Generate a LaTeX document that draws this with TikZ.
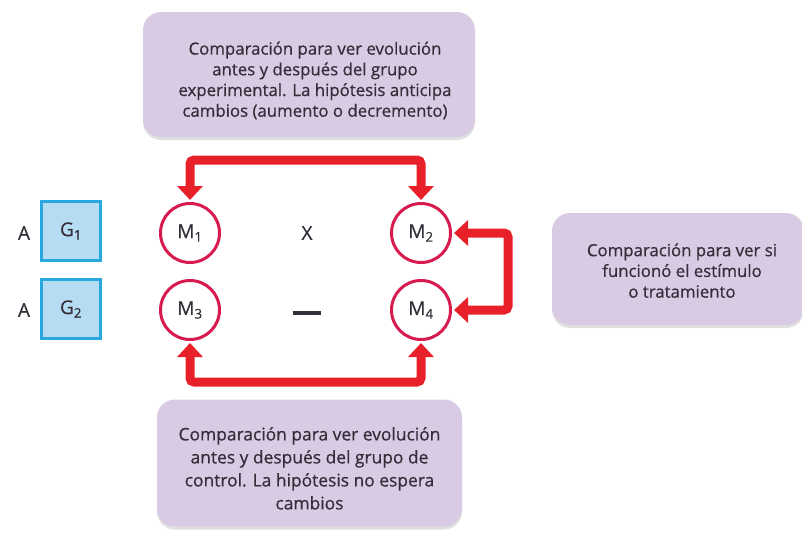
\documentclass[tikz,border=0pt]{standalone}
\usepackage{fontspec}
\setmainfont{Open Sans}
\newfontfamily\boxfont{Open Sans}[FakeBold=0.6]
\usetikzlibrary{arrows.meta,shadows}
\definecolor{boxfill}{HTML}{DACBE4}
\definecolor{txt}{HTML}{332E38}
\definecolor{arrowred}{HTML}{E8202A}
\definecolor{circ}{HTML}{D81B4F}
\definecolor{gfill}{HTML}{B5DCF2}
\definecolor{gdraw}{HTML}{2BA7DF}
\newcommand{\shiftln}{\hspace*{12pt}}
\tikzset{
  notebox/.style={rectangle, rounded corners=18pt, fill=boxfill, text=txt,
    align=center, font=\boxfont\fontsize{16.8}{20.7}\selectfont, inner sep=0pt,
    drop shadow={opacity=0.25, shadow xshift=0pt, shadow yshift=-3pt}},
  meas/.style={circle, draw=circ, line width=3pt, minimum size=59pt, inner sep=0pt,
    text=txt, font=\boxfont\fontsize{19}{20}\selectfont},
  grp/.style={rectangle, draw=gdraw, fill=gfill, line width=2.5pt, minimum size=59pt,
    inner sep=0pt, text=txt, font=\boxfont\fontsize{19}{20}\selectfont},
  lbl/.style={text=txt, font=\boxfont\fontsize{19}{20}\selectfont, inner sep=0pt},
  bigarrow/.style={draw=arrowred, line width=9pt, rounded corners=4pt,
    {Triangle[width=25pt,length=14pt]}-{Triangle[width=25pt,length=14pt]},
    shorten <=2pt, shorten >=2pt}
}
\begin{document}
\begin{tikzpicture}[x=1pt,y=-1pt]
\useasboundingbox (0,0) rectangle (802,533);
% comment boxes
\node[notebox, minimum width=332pt, minimum height=125pt] (top) at (309,74.5)
  {\rule{0pt}{25pt}\shiftln Comparación para ver evolución\\\shiftln antes y después del grupo\\\shiftln experimental. La hipótesis anticipa\\\shiftln cambios (aumento o decremento)};
\node[notebox, minimum width=305pt, minimum height=127pt,
  font=\boxfont\fontsize{17.4}{23}\selectfont] (bot) at (309.5,463)
  {\rule{0pt}{24pt}Comparación para ver evolución\\antes y después del grupo de\\control. La hipótesis no espera\\cambios};
\node[notebox, minimum width=252pt, minimum height=112pt] (right) at (678,269)
  {\rule{0pt}{16pt}\hspace*{8pt}Comparación para ver si\\\hspace*{8pt}funcionó el estímulo\\\hspace*{8pt}o tratamiento};
% groups
\node[lbl] (a1) at (24,233) {A};
\node[lbl] (a2) at (24,310) {A};
\node[grp] (g1) at (71,231) {G\textsubscript{1}};
\node[grp] (g2) at (71,309) {G\textsubscript{2}};
% measurements
\node[meas] (m1) at (190,233) {M\textsubscript{1}};
\node[meas] (m2) at (421,233) {M\textsubscript{2}};
\node[meas] (m3) at (190,310) {M\textsubscript{3}};
\node[meas] (m4) at (421,310) {M\textsubscript{4}};
\node[lbl] (x) at (307,233) {X};
\node[fill=txt, minimum width=28pt, minimum height=4pt, inner sep=0pt] (dash) at (307,313) {};
% connectors
\coordinate (topbar) at (306,160);
\coordinate (rightbar) at (508,271);
\coordinate (botbar) at (306,382);
\path[bigarrow] (m1.north) |- (topbar) -| (m2.north);
\path[bigarrow] (m2.east) -| (rightbar) |- (m4.east);
\path[bigarrow] (m3.south) |- (botbar) -| (m4.south);
\end{tikzpicture}
\end{document}
